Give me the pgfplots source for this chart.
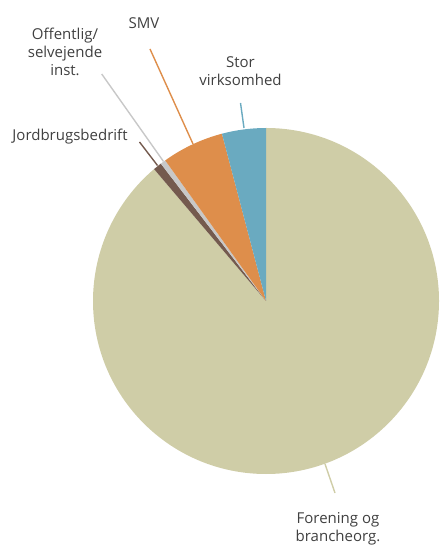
\documentclass[border=0pt]{standalone}
\usepackage{pgfplots}
\usepackage{pgfplotstable}
\pgfplotsset{compat=1.18}
\usepackage{fontspec}
\setmainfont{Open Sans}
\definecolor{c0}{RGB}{207,205,167}
\definecolor{c1}{RGB}{116,90,78}
\definecolor{c2}{RGB}{200,200,200}
\definecolor{c3}{RGB}{222,142,75}
\definecolor{c4}{RGB}{106,170,192}
\definecolor{txt}{RGB}{64,64,64}
\pgfplotstableread{
label value
Forening 88.8
Jordbrug 0.8
Offentlig 0.5
SMV 5.8
Stor 4.1
}\piedata
\newcommand\px[2]{(axis cs:{(#1-266)/173},{(301-#2)/173})}
\begin{document}
\begin{tikzpicture}
\xdef\cumangle{90}%
\pgfplotsforeachungrouped \i in {0,...,4}{%
  \pgfplotstablegetelem{\i}{value}\of\piedata
  \pgfmathsetmacro\s{\cumangle}%
  \pgfmathsetmacro\e{\cumangle-3.6*\pgfplotsretval}%
  \expandafter\xdef\csname sS\i\endcsname{\s}%
  \expandafter\xdef\csname sE\i\endcsname{\e}%
  \xdef\cumangle{\e}%
}%
\begin{axis}[x=173pt,y=173pt,xmin=-1.5376,xmax=0.9942,ymin=-1.4104,ymax=1.7399,
  hide axis,clip=false]
\path (axis cs:-1.5376,-1.4104) rectangle (axis cs:0.9942,1.7399);
\pgfplotsinvokeforeach{0,...,4}{%
  \fill[c#1] (axis cs:0,0) -- (axis cs:{cos(\csname sS#1\endcsname)},{sin(\csname sS#1\endcsname)})
    arc[start angle=\csname sS#1\endcsname, end angle=\csname sE#1\endcsname, radius=173pt] -- cycle;
}
\draw[c4,line width=1.4pt] \px{244}{128} -- \px{240.5}{103};
\draw[c3,line width=1.4pt] \px{193}{144} -- \px{150}{49};
\draw[c2,line width=1.4pt] \px{163.5}{161.5} -- \px{101.7}{74};
\draw[c1,line width=1.4pt] \px{157.5}{165.5} -- \px{139.5}{142};
\draw[c0,line width=1.4pt] \px{325}{464} -- \px{335}{493};
\begin{scope}[every node/.style={text=txt,font=\fontsize{15}{18}\selectfont,align=center,inner sep=0pt}]
\node at \px{240.5}{71} {Stor\\virksomhed};
\node at \px{144}{23} {SMV};
\node at \px{65}{51.7} {Offentlig/\\selvejende\\inst.};
\node at \px{70}{136.7} {Jordbrugsbedrift};
\node at \px{338}{528.5} {Forening og\\brancheorg.};
\end{scope}
\end{axis}
\end{tikzpicture}
\end{document}
